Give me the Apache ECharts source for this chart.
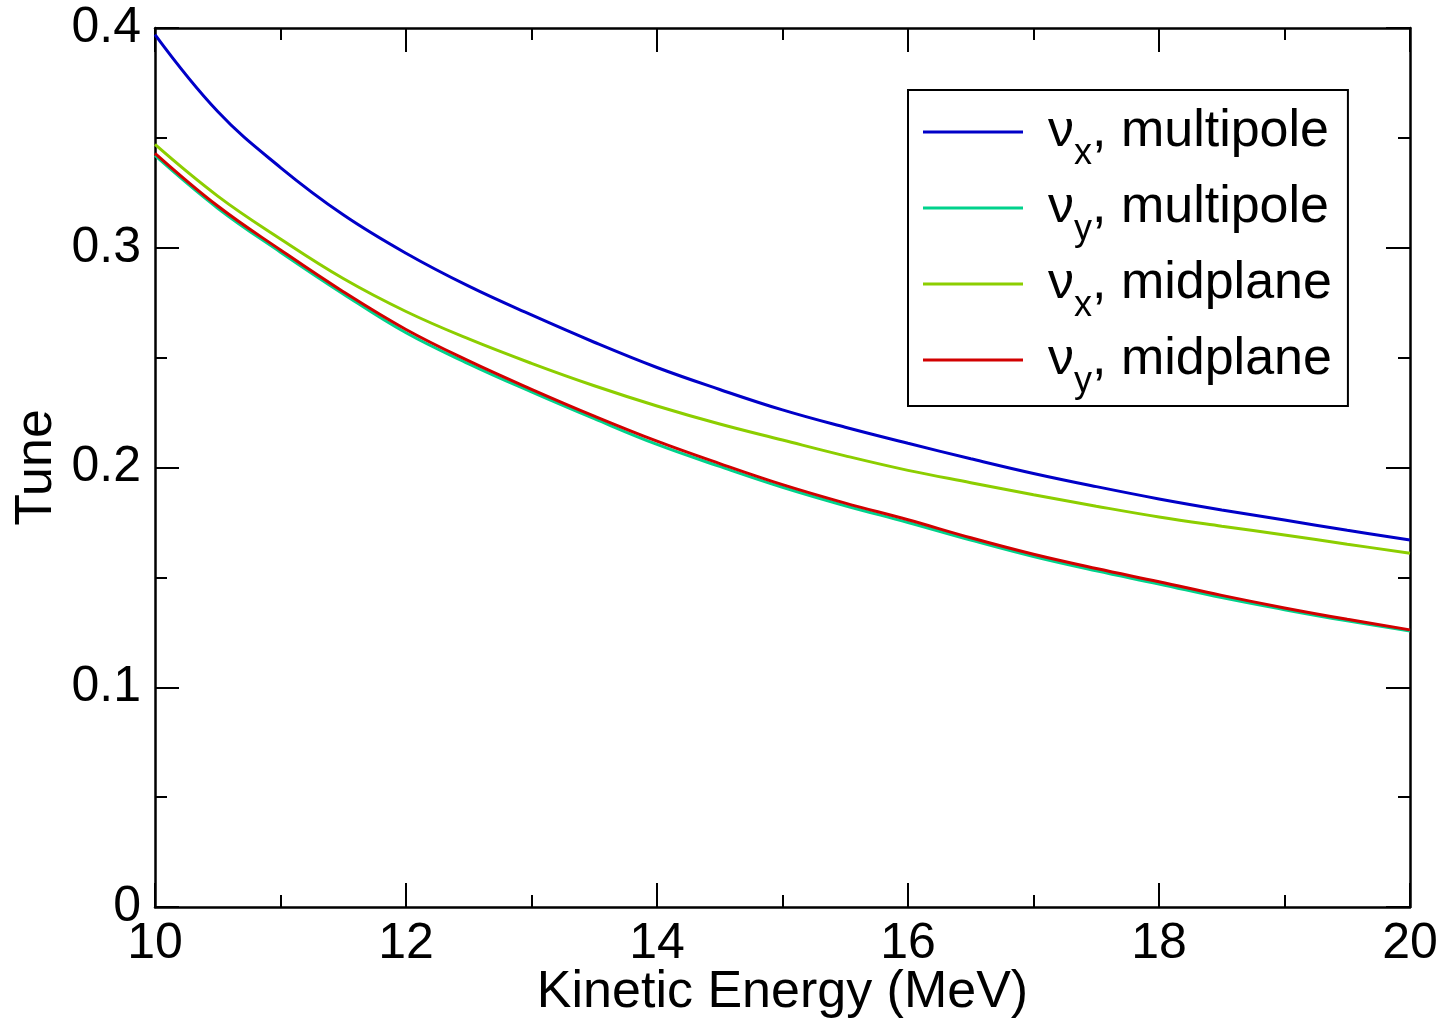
<!DOCTYPE html>
<html>
<head>
<meta charset="utf-8">
<script src="https://cdn.jsdelivr.net/npm/echarts@6/dist/echarts.min.js"></script>
<style>
  html, body { margin: 0; padding: 0; background: #fff; }
  #chart { width: 1449px; height: 1021px; }
</style>
</head>
<body>
<div id="chart"></div>
<script>
// kinetic energy (MeV)
var energy = [10, 10.5, 11, 11.5, 12, 12.5, 13, 13.5, 14, 14.5, 15, 15.5, 16, 16.5, 17, 17.5, 18, 18.5, 19, 19.5, 20];

// tunes
var nuxMultipole = [0.397, 0.362, 0.3365, 0.315, 0.2975, 0.2825, 0.2694, 0.257, 0.2455, 0.2355, 0.2262, 0.2183, 0.211, 0.204, 0.1973, 0.1913, 0.1857, 0.1807, 0.1761, 0.1714, 0.167];
var nuyMultipole = [0.342, 0.318, 0.298, 0.279, 0.2613, 0.2472, 0.2344, 0.2222, 0.2105, 0.2005, 0.191, 0.1826, 0.175, 0.167, 0.1595, 0.153, 0.147, 0.1408, 0.1353, 0.1302, 0.1256];
var nuxMidplane  = [0.347, 0.3235, 0.304, 0.286, 0.271, 0.2585, 0.2474, 0.2372, 0.228, 0.2198, 0.2125, 0.2053, 0.1987, 0.1931, 0.1876, 0.1824, 0.1775, 0.1733, 0.1693, 0.1651, 0.161];
var nuyMidplane  = [0.343, 0.319, 0.299, 0.28, 0.2628, 0.2485, 0.2356, 0.2234, 0.212, 0.2018, 0.1922, 0.1838, 0.1762, 0.168, 0.1605, 0.154, 0.148, 0.1418, 0.1361, 0.1309, 0.1261];

var seriesNames = ['nuxMultipole', 'nuyMultipole', 'nuxMidplane', 'nuyMidplane'];
var legendText = {
  nuxMultipole: '{nu|ν}{sub|x}{t|, multipole}',
  nuyMultipole: '{nu|ν}{sub|y}{t|, multipole}',
  nuxMidplane:  '{nu|ν}{sub|x}{t|, midplane}',
  nuyMidplane:  '{nu|ν}{sub|y}{t|, midplane}'
};
var colors = ['#0000c8', '#00d28c', '#8cce00', '#d20000'];
var values = [nuxMultipole, nuyMultipole, nuxMidplane, nuyMidplane];

function pairs(xs, ys) {
  var res = [];
  for (var i = 0; i < xs.length; i++) res.push([xs[i], ys[i]]);
  return res;
}

var chart = echarts.init(document.getElementById('chart'));
var font = 'Liberation Sans, Arial, sans-serif';

function xAx(pos, labels) {
  return {
    type: 'value', position: pos, min: 10, max: 20, interval: 2,
    axisLine: { show: true, onZero: false, lineStyle: { color: '#000', width: 2.5 } },
    axisTick: { show: true, inside: true, length: 24, lineStyle: { color: '#000', width: 2 } },
    minorTick: { show: true, splitNumber: 2, length: 12, lineStyle: { color: '#000', width: 2 } },
    splitLine: { show: false },
    axisLabel: { show: labels, margin: 12, fontSize: 50, color: '#000', fontFamily: font }
  };
}
function yAx(pos, labels) {
  return {
    type: 'value', position: pos, min: 0, max: 0.4, interval: 0.1,
    axisLine: { show: true, onZero: false, lineStyle: { color: '#000', width: 2.5 } },
    axisTick: { show: true, inside: true, length: 24, lineStyle: { color: '#000', width: 2 } },
    minorTick: { show: true, splitNumber: 2, length: 12, lineStyle: { color: '#000', width: 2 } },
    splitLine: { show: false },
    axisLabel: { show: labels, margin: 14, fontSize: 50, color: '#000', fontFamily: font }
  };
}

var xBottom = xAx('bottom', true);
xBottom.name = 'Kinetic Energy (MeV)';
xBottom.nameLocation = 'middle';
xBottom.nameGap = 60;
xBottom.nameMoveOverlap = false;
xBottom.nameTextStyle = { fontSize: 52, color: '#000', fontFamily: font };
var yLeft = yAx('left', true);
yLeft.name = 'Tune';
yLeft.nameLocation = 'middle';
yLeft.nameGap = 92;
yLeft.nameMoveOverlap = false;
yLeft.nameTextStyle = { fontSize: 52, color: '#000', fontFamily: font };

var series = [];
for (var i = 0; i < seriesNames.length; i++) {
  series.push({
    name: seriesNames[i],
    type: 'line',
    xAxisIndex: 0,
    yAxisIndex: 0,
    data: pairs(energy, values[i]),
    smooth: 0.4,
    showSymbol: false,
    symbol: 'none',
    lineStyle: { color: colors[i], width: 3 },
    itemStyle: { color: colors[i] },
    animation: false
  });
}

chart.setOption({
  backgroundColor: '#fff',
  grid: { left: 155, right: 39, top: 28, bottom: 114, outerBoundsMode: 'none', containLabel: false },
  xAxis: [xBottom, xAx('top', false)],
  yAxis: [yLeft, yAx('right', false)],
  legend: {
    orient: 'vertical',
    left: 908,
    top: 90,
    padding: [2, 16, 6, 15],
    itemGap: -4,
    itemWidth: 100,
    itemHeight: 3,
    icon: 'rect',
    borderColor: '#000',
    borderWidth: 2,
    backgroundColor: '#fff',
    data: seriesNames,
    formatter: function (name) { return legendText[name]; },
    textStyle: {
      color: '#000',
      fontFamily: font,
      lineHeight: 60,
      padding: [0, 0, 0, 20],
      rich: {
        nu: { fontSize: 52, lineHeight: 60, fontFamily: font, color: '#000' },
        sub: { fontSize: 36, lineHeight: 60, padding: [44, 0, 0, 0], fontFamily: font, color: '#000' },
        t: { fontSize: 52, lineHeight: 60, fontFamily: font, color: '#000' }
      }
    }
  },
  series: series
});
</script>
</body>
</html>
